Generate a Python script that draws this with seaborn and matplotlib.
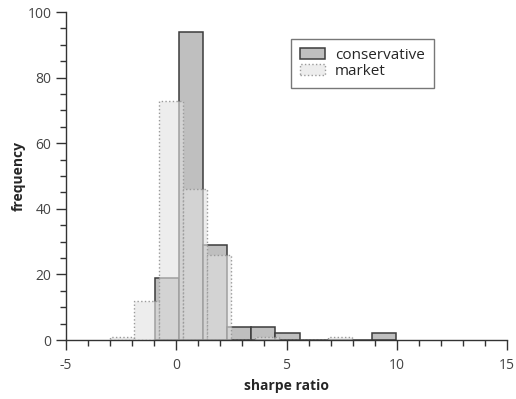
import numpy as np
import pandas as pd
import matplotlib
matplotlib.use("Agg")
import matplotlib.pyplot as plt
import matplotlib.ticker as mtick
import seaborn as sns

# histogram counts
CONS_START, MKT_START, BIN_W = -0.98, -2.99, 1.095
cons_counts = [19, 94, 29, 4, 4, 2, 0, 0, 0, 2]
mkt_counts = [1, 12, 73, 46, 26, 0, 1, 0, 0, 1]
x_ticks = [-5, 0, 5, 10, 15]
y_ticks = [0, 20, 40, 60, 80, 100]

cons_edges = CONS_START + BIN_W * np.arange(len(cons_counts) + 1)
mkt_edges = MKT_START + BIN_W * np.arange(len(mkt_counts) + 1)
cons = pd.DataFrame({"sharpe": (cons_edges[:-1] + cons_edges[1:]) / 2, "n": cons_counts})
mkt = pd.DataFrame({"sharpe": (mkt_edges[:-1] + mkt_edges[1:]) / 2, "n": mkt_counts})

sns.set_style("ticks")
plt.rcParams["font.family"] = ["Open Sans", "DejaVu Sans"]
plt.rcParams["axes.unicode_minus"] = False

fig = plt.figure(figsize=(5.16, 3.99), dpi=100)
ax = fig.add_axes([66 / 516, 59 / 399, 441 / 516, 328 / 399])

sns.histplot(data=cons, x="sharpe", weights="n", bins=cons_edges.tolist(), ax=ax,
             color="#bfbfbf", alpha=1, edgecolor="#3c3c3c", linewidth=1.1,
             label="conservative")
sns.histplot(data=mkt, x="sharpe", weights="n", bins=mkt_edges.tolist(), ax=ax,
             color="#e2e2e2", alpha=0.6, edgecolor="#9a9a9a", linewidth=1.0,
             linestyle=":", label="market")

ax.set_xlim(-5, 15)
ax.set_ylim(0, 100)
ax.set_xticks(x_ticks)
ax.set_yticks(y_ticks)
ax.xaxis.set_minor_locator(mtick.MultipleLocator(1))
ax.yaxis.set_minor_locator(mtick.MultipleLocator(5))
ax.tick_params(which="major", length=7, width=1, color="#333333",
               labelsize=10, labelcolor="#444444")
ax.tick_params(which="minor", length=4.5, width=1, color="#333333")
ax.tick_params(axis="x", which="major", pad=6)
sns.despine(ax=ax)
for s in ["left", "bottom"]:
    ax.spines[s].set_color("#333333")
    ax.spines[s].set_linewidth(1)

ax.set_xlabel("sharpe ratio", fontsize=10, fontweight="bold", labelpad=4)
ax.set_ylabel("frequency", fontsize=10, fontweight="bold", labelpad=1)

leg = ax.legend(loc="upper left", bbox_to_anchor=(0.51, 0.918), fontsize=11,
                frameon=True, fancybox=False, edgecolor="#555555",
                handlelength=1.6, handleheight=0.75, labelspacing=0.05,
                borderpad=0.6, handletextpad=0.7, borderaxespad=0)
leg.get_frame().set_linewidth(1)

fig.savefig("out.png", dpi=100)
